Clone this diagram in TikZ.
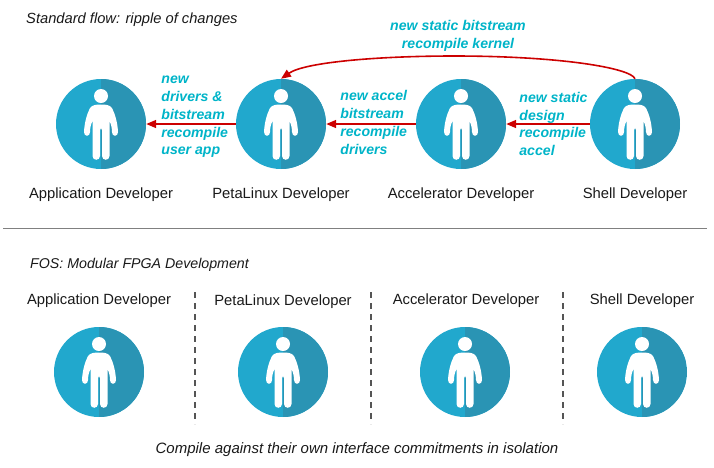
\documentclass[tikz,border=0pt]{standalone}
\usepackage{fontspec}
\setmainfont{Liberation Sans}
\usetikzlibrary{positioning,arrows.meta,calc}
\definecolor{devblue}{RGB}{33,168,205}
\definecolor{devdark}{RGB}{42,148,180}
\definecolor{changered}{RGB}{204,0,0}
\definecolor{changeteal}{RGB}{0,180,200}
\definecolor{ruleblack}{RGB}{85,85,85}
\tikzset{
  person/.pic={
    \fill[white] (0,-28) circle (7);
    \fill[white] (0,-19.5) .. controls (-5,-19.5) and (-9,-19) .. (-11,-16)
      .. controls (-14,-10) and (-16.5,-2) .. (-17,8)
      .. controls (-17,13) and (-11,13) .. (-11,8)
      .. controls (-11,4) and (-10,0) .. (-8.5,-3)
      -- (-8.5,32) .. controls (-8.5,37) and (-1,37) .. (-1,32)
      -- (-1,6) -- (0,4) -- (1,6) -- (1,32)
      .. controls (1,37) and (8.5,37) .. (8.5,32)
      -- (8.5,-3) .. controls (10,0) and (11,4) .. (11,8)
      .. controls (11,13) and (17,13) .. (17,8)
      .. controls (16.5,-2) and (14,-10) .. (11,-16)
      .. controls (9,-19) and (5,-19.5) .. (0,-19.5) -- cycle;
  },
  devcircle/.style={circle,minimum size=90pt,inner sep=0pt,fill=devblue,
    path picture={
      \fill[devdark] (path picture bounding box.north) rectangle (path picture bounding box.south east);
      \pic at (path picture bounding box.center) {person};
    }},
  devname/.style={inner sep=0pt,font=\fontsize{14.8}{17}\selectfont,text=black!90},
  change/.style={inner sep=0pt,align=left,text=changeteal,
    font=\fontsize{14.1}{17.8}\selectfont\bfseries\itshape},
  heading/.style={inner sep=0pt,font=\fontsize{14.7}{17}\selectfont\itshape,text=black!90},
  ripple/.style={draw=changered,line width=1.6pt,-{Triangle[length=10pt,width=8pt]}},
  divider/.style={draw=ruleblack,line width=1.5pt,dash pattern=on 6pt off 5pt},
}
\begin{document}
\begin{tikzpicture}[x=1pt,y=-1pt]
\useasboundingbox (0,0) rectangle (714,467);

\node[heading,anchor=west] (flowtitle) at (26,20) {Standard flow: ripple of changes};

% standard flow developers
\node[devcircle] (app) at (101,124) {};
\node[devcircle] (peta) at (281,124) {};
\node[devcircle] (accel) at (461,124) {};
\node[devcircle] (shell) at (635,124) {};

\node[devname,below=18.5pt of app] (appname) {Application Developer};
\node[devname,below=18.5pt of peta] (petaname) {PetaLinux Developer};
\node[devname,below=18.5pt of accel] (accelname) {Accelerator Developer};
\node[devname,below=18.5pt of shell] (shellname) {Shell Developer};

\draw[ripple] (peta) -- (app);
\draw[ripple] (accel) -- (peta);
\draw[ripple] (shell) -- (accel);
\coordinate (archtop) at (454,56);
\draw[ripple] (shell.north) .. controls (631,68) and (560,56) .. (archtop)
  .. controls (380,56) and (305,62) .. (peta.north);

\node[change,right=15pt of app,yshift=7pt] (applabel) {new\\drivers \&\\bitstream\\recompile\\user app};
\node[change,right=14pt of peta,yshift=1.5pt] (petalabel) {new accel\\bitstream\\recompile\\drivers};
\node[change,right=13pt of accel] (accellabel) {new static\\design\\recompile\\accel};
\node[change,align=center] (shelllabel) at (458,36) {new static bitstream\\recompile kernel};

\coordinate (ruleleft) at (3,228);
\coordinate (ruleright) at (707,228);
\draw[black!50,line width=1pt] (ruleleft) -- (ruleright);

\node[heading,anchor=west,font=\fontsize{14.2}{17}\selectfont\itshape] (fostitle) at (30,265) {FOS: Modular FPGA Development};

% modular developers
\node[devcircle] (fosapp) at (99,372) {};
\node[devcircle] (fospeta) at (283,372) {};
\node[devcircle] (fosaccel) at (465,372) {};
\node[devcircle] (fosshell) at (642,372) {};

\node[devname] (fosappname) at (99,301) {Application Developer};
\node[devname] (fospetaname) at (283,302) {PetaLinux Developer};
\node[devname] (fosaccelname) at (466,301) {Accelerator Developer};
\node[devname] (fosshellname) at (642,301) {Shell Developer};

\foreach \name/\xpos in {one/195,two/371,three/563} {
  \coordinate (top\name) at (\xpos,292);
  \coordinate (bottom\name) at (\xpos,424);
  \draw[divider] (top\name) -- (bottom\name);
}

\node[heading,font=\fontsize{15}{17}\selectfont\itshape] (fosnote) at (357,450) {Compile against their own interface commitments in isolation};
\end{tikzpicture}
\end{document}
